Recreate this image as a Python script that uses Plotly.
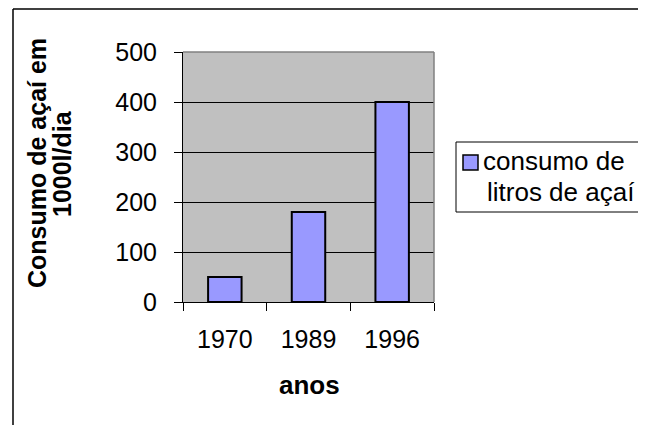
import plotly.graph_objects as go

categories = ["1970", "1989", "1996"]
consumo = [50, 180, 400]
legend_lines = ["consumo de", "litros de açaí"]
y_title_lines = ["Consumo de açaí em", "1000l/dia"]
x_title = "anos"
y_ticks = [0, 100, 200, 300, 400, 500]

OFF = 8  # default page body margin
W, H = 646 - OFF, 425 - OFF
L, R, T, B = 183 - OFF, 434 - OFF, 52 - OFF, 302 - OFF

def px(x):
    return (x - OFF - L) / (R - L)

def py(y):
    return (B - (y - OFF)) / (B - T)

FONT = "Liberation Sans, Arial, sans-serif"
FS = 25
FT = 26

fig = go.Figure(go.Bar(
    x=categories, y=consumo, width=0.4,
    marker=dict(color="#9999FF", line=dict(color="black", width=2)),
    name="consumo de litros de açaí", showlegend=False,
))

shapes = [
    dict(type="line", xref="paper", yref="paper", x0=px(13), x1=px(700), y0=py(9), y1=py(9),
         line=dict(color="black", width=1.5)),
    dict(type="line", xref="paper", yref="paper", x0=px(13), x1=px(13), y0=py(9), y1=py(480),
         line=dict(color="black", width=1.5)),
    dict(type="line", xref="paper", yref="paper", x0=0, x1=1, y0=1, y1=1,
         line=dict(color="#808080", width=1.5), layer="above"),
    dict(type="line", xref="paper", yref="paper", x0=1, x1=1, y0=0, y1=1,
         line=dict(color="#808080", width=1.5), layer="above"),
    dict(type="rect", xref="paper", yref="paper", x0=px(456), x1=px(644), y0=py(142), y1=py(212),
         line=dict(color="black", width=1), fillcolor="white"),
    dict(type="rect", xref="paper", yref="paper", x0=px(463), x1=px(478), y0=py(155), y1=py(170),
         line=dict(color="black", width=1.5), fillcolor="#9999FF"),
]

annotations = [
    dict(text=legend_lines[0], xref="paper", yref="paper", x=px(481), y=py(161),
         xanchor="left", yanchor="middle", showarrow=False,
         font=dict(family=FONT, size=FT, color="black")),
    dict(text=legend_lines[1], xref="paper", yref="paper", x=px(485), y=py(192),
         xanchor="left", yanchor="middle", showarrow=False,
         font=dict(family=FONT, size=FT, color="black")),
    dict(text="<b>%s</b>" % y_title_lines[0], xref="paper", yref="paper",
         x=px(37), y=py(163), xanchor="center", yanchor="middle", textangle=-90,
         showarrow=False, font=dict(family=FONT, size=25, color="black")),
    dict(text="<b>%s</b>" % y_title_lines[1], xref="paper", yref="paper",
         x=px(62), y=py(164), xanchor="center", yanchor="middle", textangle=-90,
         showarrow=False, font=dict(family=FONT, size=25, color="black")),
    dict(text="<b>%s</b>" % x_title, xref="paper", yref="paper", x=px(309), y=py(385),
         xanchor="center", yanchor="middle", showarrow=False,
         font=dict(family=FONT, size=FT, color="black")),
]

fig.update_layout(
    width=W, height=H,
    margin=dict(l=L, r=W - R, t=T, b=H - B, pad=0),
    paper_bgcolor="white", plot_bgcolor="#C0C0C0",
    font=dict(family=FONT, size=FS, color="black"),
    shapes=shapes, annotations=annotations,
    xaxis=dict(type="category", tickson="boundaries", ticks="outside", ticklen=8,
               tickcolor="black", tickwidth=1, showline=True, linecolor="black", linewidth=1,
               showgrid=False, ticklabelstandoff=15, tickfont=dict(size=FS)),
    yaxis=dict(range=[0, 500], tickvals=y_ticks, ticks="outside", ticklen=8,
               tickcolor="black", tickwidth=1, showline=True, linecolor="black", linewidth=1,
               showgrid=True, gridcolor="black", gridwidth=1, zeroline=False,
               ticklabelstandoff=12, tickfont=dict(size=FS)),
)

fig.write_html("out.html")
